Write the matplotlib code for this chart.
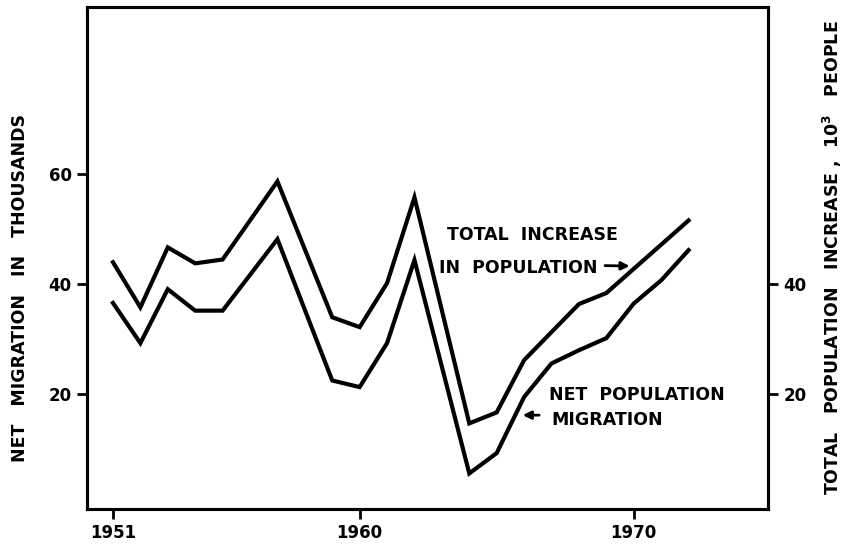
import matplotlib
matplotlib.use("Agg")
import matplotlib.pyplot as plt

# Data
years_total = [1951, 1952, 1953, 1954, 1955, 1957, 1959, 1960, 1961, 1962,
               1964, 1965, 1966, 1967, 1968, 1969, 1972]
total_increase = [44.0, 35.8, 46.7, 43.8, 44.5, 58.7, 34.0, 32.2, 40.2, 55.8,
                  14.7, 16.7, 26.2, 31.3, 36.4, 38.4, 51.6]

years_migr = [1951, 1952, 1953, 1954, 1955, 1957, 1959, 1960, 1961, 1962,
              1964, 1965, 1966, 1967, 1968, 1969, 1970, 1971, 1972]
net_migration = [36.6, 29.3, 39.1, 35.2, 35.2, 48.2, 22.5, 21.3, 29.3, 44.4,
                 5.6, 9.3, 19.5, 25.6, 28.0, 30.2, 36.5, 40.7, 46.2]

x_ticks = [1951, 1960, 1970]
left_ticks = [20, 40, 60]
right_ticks = [20, 40]

plt.rcParams['font.family'] = ['DejaVu Sans']
plt.rcParams['font.weight'] = 'bold'

fig = plt.figure(figsize=(8.44, 5.44), dpi=100)
ax = fig.add_axes([0.103, 0.064, 0.807, 0.923])

lw = 3.0
ax.plot(years_total, total_increase, color='black', lw=lw, solid_joinstyle='miter')
ax.plot(years_migr, net_migration, color='black', lw=lw, solid_joinstyle='miter')

ax.set_xlim(1950.05, 1974.9)
ax.set_ylim(-0.9, 90.4)

for s in ax.spines.values():
    s.set_linewidth(2.2)

ax.set_xticks(x_ticks)
ax.set_xticklabels([str(v) for v in x_ticks], fontsize=12, fontweight='bold')
ax.set_yticks(left_ticks)
ax.set_yticklabels([str(v) for v in left_ticks], fontsize=12, fontweight='bold')
ax.tick_params(axis='both', direction='out', length=7, width=2, pad=4)

ax.set_ylabel('NET   MIGRATION   IN   THOUSANDS', fontsize=12.5, fontweight='bold')
ax.yaxis.set_label_coords(-0.085, 0.44)

ax2 = ax.twinx()
ax2.set_ylim(ax.get_ylim())
ax2.set_yticks(right_ticks)
ax2.set_yticklabels([str(v) for v in right_ticks], fontsize=12, fontweight='bold')
ax2.tick_params(axis='y', direction='out', length=7, width=2, pad=4)
ax2.set_yticks([40], minor=True)
ax2.tick_params(axis='y', which='minor', direction='in', length=12, width=2)
ax2.set_ylabel('TOTAL   POPULATION   INCREASE ,  10$^{\\mathbf{3}}$   PEOPLE',
               fontsize=12.5, fontweight='bold')
ax2.yaxis.set_label_coords(1.078, 0.5)
for s in ax2.spines.values():
    s.set_linewidth(2.2)

tk = dict(fontsize=12.5, fontweight='bold', va='center', ha='left')
ax.text(1963.2, 48.9, 'TOTAL  INCREASE', **tk)
ax.text(1962.9, 42.9, 'IN  POPULATION', **tk)
ax.annotate('', xy=(1969.95, 43.3), xytext=(1968.85, 43.4),
            arrowprops=dict(arrowstyle='-|>', color='black', lw=2, mutation_scale=12))
ax.text(1966.9, 19.8, 'NET  POPULATION', **tk)
ax.text(1967.0, 15.3, 'MIGRATION', **tk)
ax.annotate('', xy=(1965.85, 16.2), xytext=(1966.65, 16.2),
            arrowprops=dict(arrowstyle='-|>', color='black', lw=2, mutation_scale=12))

fig.savefig('out.png', dpi=100)
